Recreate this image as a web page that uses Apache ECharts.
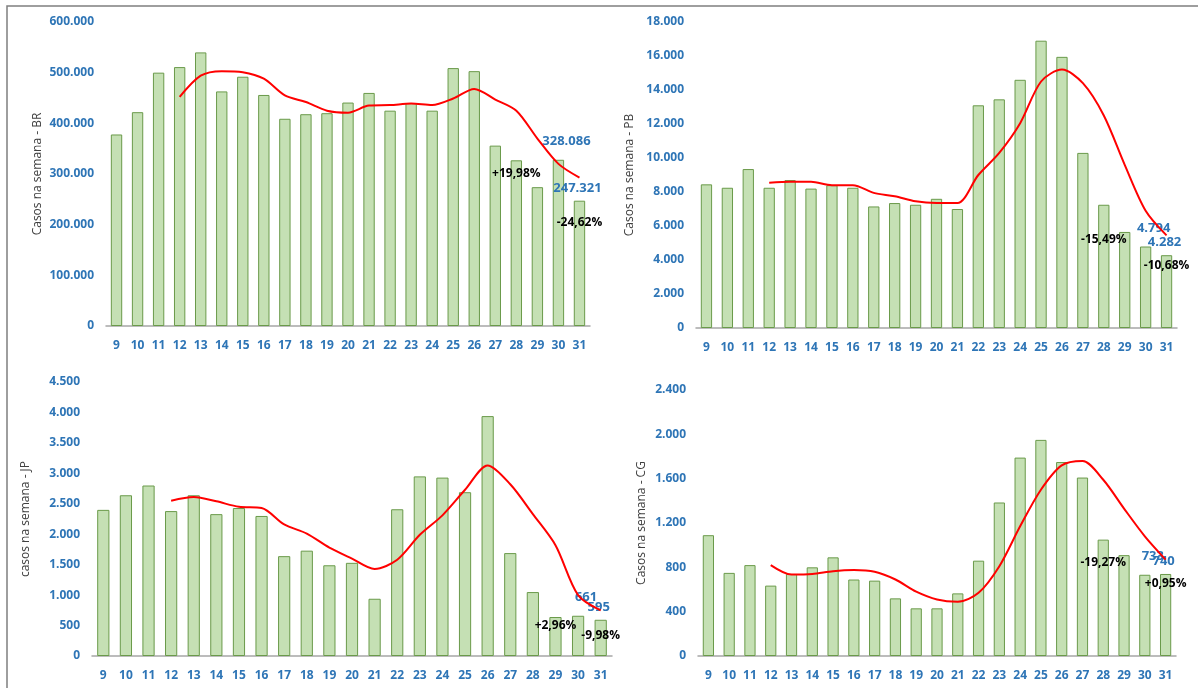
<!DOCTYPE html>
<html>
<head>
<meta charset="utf-8">
<script src="https://cdn.jsdelivr.net/npm/echarts@6/dist/echarts.min.js"></script>
<style>
  html, body { margin: 0; padding: 0; background: #fff; }
  #main { width: 1198px; height: 688px; }
</style>
</head>
<body>
<div id="main"></div>
<script>
const semanas = ['9','10','11','12','13','14','15','16','17','18','19','20','21','22','23','24','25','26','27','28','29','30','31'];

// casos por semana
const casosBR = [378000,422000,500000,511000,540000,463000,492000,456000,409000,418000,420000,441000,460000,425000,440000,425000,509000,503000,356000,327000,274000,328086,247321];
const casosPB = [8450,8250,9350,8250,8700,8200,8400,8250,7150,7350,7250,7600,7000,13100,13450,14600,16900,15950,10300,7250,5650,4794,4282];
const casosJP = [2400,2640,2800,2380,2640,2330,2430,2300,1640,1730,1490,1530,940,2410,2950,2930,2690,3940,1690,1050,640,661,595];
const casosCG = [1090,750,820,635,740,800,890,690,680,520,430,430,565,860,1385,1790,1950,1750,1610,1050,910,733,740];

// média móvel (a partir da semana 12)
const mediaBR = [null,null,null,452000,494000,503000,501000,488000,455000,442000,425000,421000,435000,436000,439000,436000,449000,468000,447000,425000,370000,320000,293000];
const mediaPB = [null,null,null,8550,8600,8600,8400,8400,7950,7750,7450,7350,7350,9000,10300,12050,14500,15200,14400,12500,9600,6900,5450];
const mediaJP = [null,null,null,2550,2610,2540,2450,2430,2160,2010,1780,1600,1430,1580,1990,2310,2730,3130,2820,2330,1820,1000,750];
const mediaCG = [null,null,null,820,735,740,765,775,760,690,580,510,490,570,810,1170,1500,1720,1760,1590,1330,1080,870];

// variações
const variacoes = {
  BR: [['28', 300000, '+19,98%'], ['31', 205000, '-24,62%']],
  PB: [['28', 5200, '-15,49%'], ['31', 3700, '-10,68%']],
  JP: [['29', 500, '+2,96%'], ['31', 330, '-9,98%']],
  CG: [['28', 840, '-19,27%'], ['31', 650, '+0,95%']]
};

const fmt = v => v.toLocaleString('de-DE');

const paineis = [
  {id: 'BR', nome: 'Casos na semana - BR', casos: casosBR, media: mediaBR, max: 600000, step: 100000, left: 106, width: 484, top: 22, height: 304},
  {id: 'PB', nome: 'Casos na semana - PB', casos: casosPB, media: mediaPB, max: 18000, step: 2000, left: 696, width: 481, top: 22, height: 306},
  {id: 'JP', nome: 'casos na semana - JP', casos: casosJP, media: mediaJP, max: 4500, step: 500, left: 92, width: 520, top: 382, height: 274},
  {id: 'CG', nome: 'Casos na semana - CG', casos: casosCG, media: mediaCG, max: 2400, step: 400, left: 698, width: 478, top: 390, height: 266}
];

const grid = [], xAxis = [], yAxis = [], series = [];
paineis.forEach((p, i) => {
  grid.push({left: p.left, width: p.width, top: p.top, height: p.height});
  xAxis.push({
    type: 'category', gridIndex: i, data: semanas,
    axisTick: {show: false},
    axisLine: {lineStyle: {color: '#a6a6a6', width: 1.5}},
    axisLabel: {color: '#2e75b6', fontSize: 12, fontWeight: 'bold', margin: 14, fontFamily: 'Open Sans'}
  });
  yAxis.push({
    type: 'value', gridIndex: i, min: 0, max: p.max, interval: p.step,
    splitLine: {show: false},
    axisLine: {show: false},
    axisLabel: {color: '#2e75b6', fontSize: 12, fontWeight: 'bold', margin: 12, fontFamily: 'Open Sans', formatter: v => fmt(v)},
    name: p.nome, nameLocation: 'middle', nameRotate: 90,
    nameGap: p.id === 'CG' ? 50 : (p.id === 'BR' ? 62 : 60),
    nameTextStyle: {color: '#404040', fontSize: 12, fontFamily: 'Open Sans'}
  });
  const n = p.casos.length;
  series.push({
    type: 'bar', xAxisIndex: i, yAxisIndex: i, barCategoryGap: '46%',
    itemStyle: {color: '#c5e0b4', borderColor: '#6a9a4a', borderWidth: 1},
    data: p.casos.map((v, k) => k >= n - 2 ? {
      value: v,
      label: {show: true, position: 'top', distance: k === n - 2 ? 12 : 6, color: '#2e75b6', fontSize: 13, fontWeight: 'bold', fontFamily: 'Open Sans', formatter: fmt(v), offset: k === n - 1 ? [-2, 0] : [8, 0]}
    } : v),
    markPoint: {
      symbol: 'circle', symbolSize: 0,
      label: {show: true, color: '#000', fontSize: 12, fontWeight: 'bold', fontFamily: 'Open Sans', formatter: d => d.name},
      data: variacoes[p.id].map(a => ({name: a[2], coord: [a[0], a[1]]}))
    },
    z: 2
  });
  series.push({
    type: 'line', xAxisIndex: i, yAxisIndex: i, data: p.media, smooth: 0.3,
    showSymbol: false, lineStyle: {color: '#ff0000', width: 2}, z: 3
  });
});

const chart = echarts.init(document.getElementById('main'));
chart.setOption({
  animation: false,
  graphic: [{type: 'rect', shape: {x: 7, y: 6, width: 1200, height: 700}, style: {fill: 'none', stroke: '#7f7f7f', lineWidth: 1.5}}],
  grid, xAxis, yAxis, series
});
</script>
</body>
</html>
